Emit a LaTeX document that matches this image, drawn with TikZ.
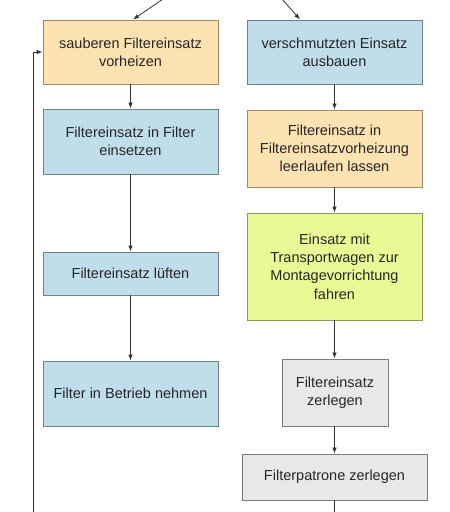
\documentclass[tikz,border=0pt]{standalone}
\usepackage{fontspec}
\setmainfont{Liberation Sans}
\usetikzlibrary{arrows.meta}
\definecolor{fillO}{HTML}{FDE2B2}
\definecolor{drawO}{HTML}{9C8A6C}
\definecolor{fillB}{HTML}{BFDEE9}
\definecolor{drawB}{HTML}{6F8089}
\definecolor{fillY}{HTML}{EBF995}
\definecolor{drawY}{HTML}{8C9858}
\definecolor{fillG}{HTML}{E6E8EA}
\definecolor{drawG}{HTML}{7A7C7E}
\definecolor{lineC}{HTML}{333333}
\begin{document}
\begin{tikzpicture}[x=1pt,y=-1pt,
  box/.style={rectangle, line width=0.9pt, inner sep=2pt, align=center,
    font=\fontsize{14.5}{18.3}\selectfont, text=black!85},
  obox/.style={box, fill=fillO, draw=drawO},
  bbox/.style={box, fill=fillB, draw=drawB},
  ybox/.style={box, fill=fillY, draw=drawY},
  gbox/.style={box, fill=fillG, draw=drawG},
  arr/.style={draw=lineC, line width=0.8pt, -{Latex[length=6pt,width=4.5pt]}},
  ln/.style={draw=lineC, line width=0.8pt}]
\useasboundingbox (0,0) rectangle (450,512);
\node[obox, minimum width=175pt, minimum height=64pt] (b1) at (130.5,52) {sauberen Filtereinsatz\\vorheizen};
\node[bbox, minimum width=175pt, minimum height=64pt] (b2) at (334.5,52) {verschmutzten Einsatz\\ausbauen};
\node[bbox, minimum width=175pt, minimum height=65pt] (b3) at (130.5,141.5) {Filtereinsatz in Filter\\einsetzen};
\node[obox, minimum width=175pt, minimum height=77pt] (b4) at (334.5,148.5) {Filtereinsatz in\\Filtereinsatzvorheizung\\leerlaufen lassen};
\node[bbox, minimum width=175pt, minimum height=43pt] (b5) at (130.5,273.5) {Filtereinsatz lüften};
\node[ybox, minimum width=175pt, minimum height=107pt] (b6) at (334.5,266.5) {Einsatz mit\\Transportwagen zur\\Montagevorrichtung\\fahren};
\node[bbox, minimum width=175pt, minimum height=65pt] (b7) at (130.5,393.5) {Filter in Betrieb nehmen};
\node[gbox, minimum width=106pt, minimum height=67pt] (b8) at (335,392.5) {Filtereinsatz\\zerlegen};
\node[gbox, minimum width=185pt, minimum height=46pt] (b9) at (334.5,477) {Filterpatrone zerlegen};
\coordinate (tl) at (163,-1);
\coordinate (tle) at (133,19.5);
\coordinate (tr) at (282,-1);
\coordinate (tre) at (300,19.5);
\coordinate (lb) at (33,514);
\coordinate (lt) at (33,52);
\coordinate (rb) at (334.5,514);
\draw[arr] (tl) -- (tle);
\draw[arr] (tr) -- (tre);
\draw[arr] (lb) -- (lt) -- (b1.west);
\draw[arr] (b1) -- (b3);
\draw[arr] (b3) -- (b5);
\draw[arr] (b5) -- (b7);
\draw[arr] (b2) -- (b4);
\draw[arr] (b4) -- (b6);
\draw[arr] (b6.south) -- (b8.north -| b6.south);
\draw[arr] (b8.south -| b6.south) -- (b9.north -| b6.south);
\draw[ln] (b9.south) -- (rb);
\end{tikzpicture}
\end{document}
